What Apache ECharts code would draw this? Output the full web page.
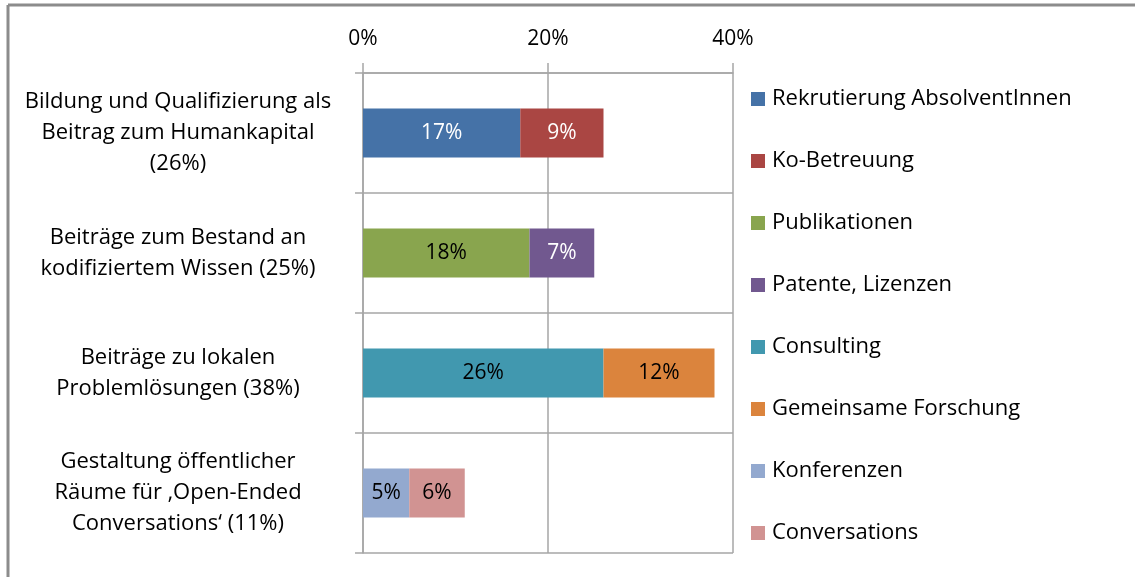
<!DOCTYPE html>
<html>
<head>
<meta charset="utf-8">
<script src="https://cdn.jsdelivr.net/npm/echarts@6/dist/echarts.min.js"></script>
<style>
    html, body { margin: 0; padding: 0; background: #fff; }
    #chart { width: 1135px; height: 577px; }
</style>
</head>
<body>
<div id="chart"></div>
<script>
// Kategorien (von oben nach unten)
const categories = [
    'Bildung und Qualifizierung als\nBeitrag zum Humankapital\n(26%)',
    'Beiträge zum Bestand an\nkodifiziertem Wissen (25%)',
    'Beiträge zu lokalen\nProblemlösungen (38%)',
    'Gestaltung öffentlicher\nRäume für ‚Open-Ended\nConversations‘ (11%)'
]
// erster und zweiter Teil je Balken
const firstNames = ['Rekrutierung AbsolventInnen', 'Publikationen', 'Consulting', 'Konferenzen']
const firstValues = [17, 18, 26, 5]
const secondNames = ['Ko-Betreuung', 'Patente, Lizenzen', 'Gemeinsame Forschung', 'Conversations']
const secondValues = [9, 7, 12, 6]
const xTicks = [0, 20, 40]

const firstColors = ['#4572A7', '#89A54E', '#4198AF', '#93A9CF']
const secondColors = ['#AA4643', '#71588F', '#DB843D', '#D19392']
const firstLabelColors = ['#fff', '#000', '#000', '#000']
const secondLabelColors = ['#fff', '#fff', '#000', '#000']

const font = 'Open Sans'
const echart = echarts.init(document.getElementById('chart'))

// eine Serie pro Segment, nur in der eigenen Kategorie belegt
const series = []
categories.forEach((c, i) => {
    const parts = [
        [firstNames[i], firstValues[i], firstColors[i], firstLabelColors[i]],
        [secondNames[i], secondValues[i], secondColors[i], secondLabelColors[i]]
    ]
    parts.forEach(p => {
        series.push({
            name: p[0],
            type: 'bar',
            stack: 'total',
            barWidth: 49,
            data: categories.map((_, j) => (j === i ? p[1] : '-')),
            itemStyle: { color: p[2] },
            label: {
                show: true,
                position: 'inside',
                formatter: '{c}%',
                color: p[3],
                fontFamily: font,
                fontSize: 21
            }
        })
    })
})
// Legendenreihenfolge wie im Original
const legendOrder = []
categories.forEach((_, i) => { legendOrder.push(firstNames[i], secondNames[i]) })

const options = {
    animation: false,
    backgroundColor: '#fff',
    textStyle: { fontFamily: font },
    grid: { left: 363, right: 402, top: 73, bottom: 24 },
    legend: {
        orient: 'vertical',
        left: 746,
        top: 83,
        itemWidth: 14,
        itemHeight: 14,
        itemGap: 40,
        icon: 'rect',
        data: legendOrder,
        textStyle: { fontFamily: font, fontSize: 22, color: '#000', lineHeight: 22, padding: [0, 0, 0, 2] }
    },
    xAxis: {
        type: 'value',
        position: 'top',
        min: xTicks[0],
        max: xTicks[xTicks.length - 1],
        interval: xTicks[1] - xTicks[0],
        axisLine: { show: true, lineStyle: { color: '#A6A6A6', width: 1.5 } },
        axisTick: { show: true, length: 10, lineStyle: { color: '#A6A6A6', width: 1.5 } },
        splitLine: { show: true, lineStyle: { color: '#A6A6A6', width: 1.5 } },
        axisLabel: { formatter: '{value}%', color: '#000', fontFamily: font, fontSize: 21, margin: 23 }
    },
    yAxis: {
        type: 'category',
        inverse: true,
        data: categories,
        axisLine: { show: true, lineStyle: { color: '#A6A6A6', width: 1.5 } },
        axisTick: { show: true, length: 8, lineStyle: { color: '#A6A6A6', width: 1.5 } },
        splitLine: { show: true, lineStyle: { color: '#A6A6A6', width: 1.5 } },
        axisLabel: {
            align: 'center',
            margin: 185,
            color: '#000',
            fontFamily: font,
            fontSize: 22,
            lineHeight: 31
        }
    },
    graphic: [
        { type: 'line', shape: { x1: 8, y1: 5, x2: 1135, y2: 5 }, style: { stroke: '#8C8C8C', lineWidth: 3 } },
        { type: 'line', shape: { x1: 8, y1: 5, x2: 8, y2: 577 }, style: { stroke: '#8C8C8C', lineWidth: 3 } }
    ],
    series: series
}
echart.setOption(options)

window.addEventListener('resize', () => {
    echart.resize()
})
</script>
</body>
</html>
